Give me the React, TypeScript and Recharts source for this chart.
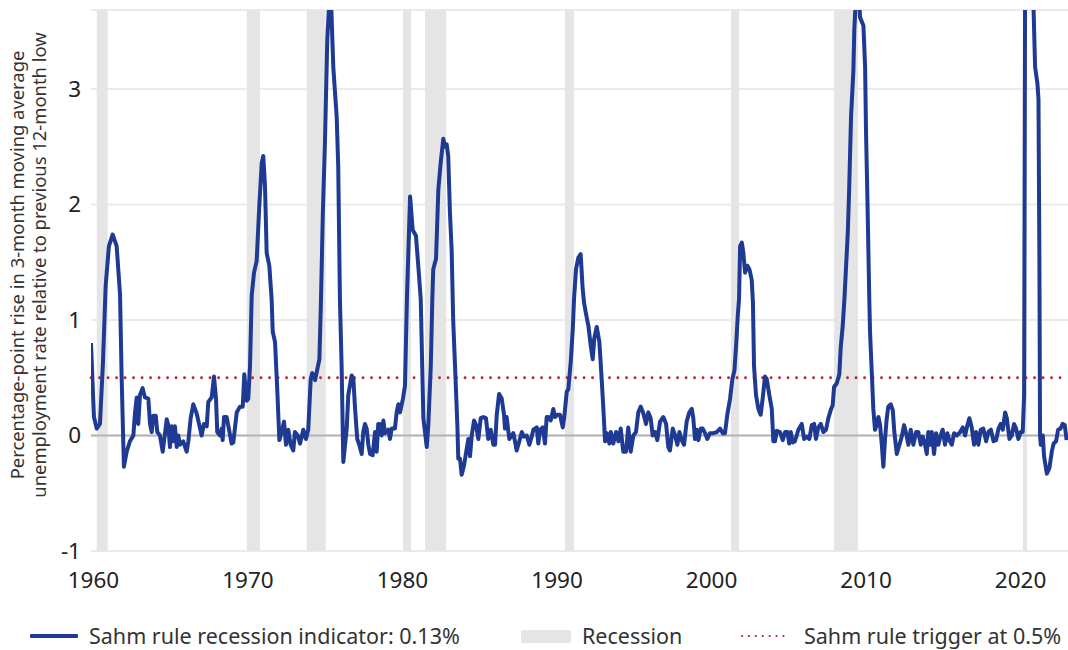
import React from 'react';
import { LineChart, Line, XAxis, YAxis, CartesianGrid, ReferenceArea, ReferenceLine } from 'recharts';

const dates = [
  1959.84, 1960.03, 1960.21, 1960.42, 1960.61, 1960.79, 1961.0, 1961.24, 1961.5, 1961.72, 1961.82, 1961.97,
  1962.15, 1962.36, 1962.58, 1962.69, 1962.8, 1962.9, 1963.01, 1963.18, 1963.33, 1963.55, 1963.66, 1963.77,
  1963.87, 1964.03, 1964.13, 1964.3, 1964.48, 1964.63, 1964.74, 1964.84, 1964.95, 1965.06, 1965.17, 1965.27,
  1965.39, 1965.49, 1965.6, 1965.81, 1966.03, 1966.14, 1966.29, 1966.46, 1966.68, 1966.85, 1967.0, 1967.15,
  1967.33, 1967.43, 1967.65, 1967.8, 1967.93, 1968.01, 1968.19, 1968.3, 1968.36, 1968.45, 1968.62, 1968.79,
  1968.94, 1969.05, 1969.27, 1969.48, 1969.66, 1969.76, 1969.92, 1970.02, 1970.13, 1970.24, 1970.39, 1970.56,
  1970.73, 1970.89, 1970.99, 1971.1, 1971.21, 1971.38, 1971.53, 1971.6, 1971.75, 1971.9, 1972.03, 1972.18,
  1972.33, 1972.46, 1972.61, 1972.76, 1972.93, 1973.04, 1973.22, 1973.37, 1973.58, 1973.75, 1973.9, 1974.06,
  1974.16, 1974.34, 1974.45, 1974.62, 1974.72, 1974.84, 1974.98, 1975.13, 1975.33, 1975.52, 1975.74, 1975.84,
  1975.95, 1976.06, 1976.17, 1976.28, 1976.39, 1976.49, 1976.71, 1976.82, 1976.93, 1977.07, 1977.2, 1977.36,
  1977.46, 1977.57, 1977.68, 1977.79, 1977.9, 1978.07, 1978.22, 1978.33, 1978.43, 1978.54, 1978.65, 1978.76,
  1978.87, 1979.08, 1979.19, 1979.3, 1979.51, 1979.62, 1979.73, 1979.84, 1980.03, 1980.16, 1980.29, 1980.49,
  1980.66, 1980.87, 1981.02, 1981.18, 1981.35, 1981.57, 1981.67, 1981.83, 1981.93, 1981.99, 1982.17, 1982.32,
  1982.47, 1982.64, 1982.75, 1982.86, 1982.96, 1983.07, 1983.18, 1983.28, 1983.4, 1983.55, 1983.61, 1983.72,
  1983.83, 1983.98, 1984.16, 1984.26, 1984.37, 1984.48, 1984.63, 1984.76, 1984.91, 1985.06, 1985.23, 1985.4,
  1985.55, 1985.71, 1985.88, 1985.99, 1986.1, 1986.25, 1986.42, 1986.57, 1986.63, 1986.74, 1986.91, 1987.07,
  1987.17, 1987.28, 1987.39, 1987.56, 1987.72, 1987.86, 1988.04, 1988.21, 1988.36, 1988.47, 1988.69, 1988.79,
  1988.9, 1989.07, 1989.22, 1989.33, 1989.44, 1989.59, 1989.76, 1989.87, 1990.02, 1990.19, 1990.37, 1990.47,
  1990.63, 1990.73, 1990.89, 1991.02, 1991.1, 1991.23, 1991.38, 1991.53, 1991.66, 1991.75, 1991.88, 1992.03,
  1992.18, 1992.31, 1992.41, 1992.57, 1992.74, 1992.89, 1993.0, 1993.11, 1993.22, 1993.39, 1993.48, 1993.64,
  1993.82, 1993.97, 1994.12, 1994.29, 1994.47, 1994.61, 1994.77, 1994.94, 1995.11, 1995.26, 1995.42, 1995.59,
  1995.76, 1995.91, 1996.06, 1996.19, 1996.34, 1996.49, 1996.67, 1996.88, 1997.06, 1997.2, 1997.31, 1997.49,
  1997.64, 1997.79, 1997.92, 1998.07, 1998.22, 1998.39, 1998.56, 1998.72, 1998.82, 1998.93, 1999.04, 1999.15,
  1999.3, 1999.43, 1999.58, 1999.73, 1999.9, 2000.12, 2000.34, 2000.55, 2000.73, 2000.87, 2001.02, 2001.2,
  2001.35, 2001.48, 2001.59, 2001.7, 2001.78, 2001.85, 2001.96, 2002.06, 2002.17, 2002.32, 2002.45, 2002.6,
  2002.68, 2002.75, 2002.88, 2003.03, 2003.18, 2003.31, 2003.46, 2003.57, 2003.74, 2003.9, 2004.0, 2004.11,
  2004.22, 2004.43, 2004.61, 2004.76, 2004.91, 2005.03, 2005.13, 2005.26, 2005.4, 2005.62, 2005.84, 2005.99,
  2006.16, 2006.33, 2006.49, 2006.64, 2006.76, 2006.91, 2007.07, 2007.24, 2007.41, 2007.56, 2007.74, 2007.84,
  2007.93, 2008.1, 2008.27, 2008.36, 2008.49, 2008.6, 2008.82, 2008.9, 2009.03, 2009.18, 2009.24, 2009.45,
  2009.61, 2009.83, 2009.94, 2010.0, 2010.09, 2010.21, 2010.26, 2010.37, 2010.47, 2010.58, 2010.69, 2010.8,
  2010.91, 2011.02, 2011.12, 2011.23, 2011.34, 2011.44, 2011.6, 2011.73, 2011.83, 2011.99, 2012.16, 2012.31,
  2012.46, 2012.59, 2012.74, 2012.89, 2013.06, 2013.24, 2013.38, 2013.54, 2013.67, 2013.82, 2013.93, 2014.03,
  2014.14, 2014.25, 2014.4, 2014.53, 2014.68, 2014.83, 2014.96, 2015.11, 2015.26, 2015.39, 2015.55, 2015.7,
  2015.87, 2016.09, 2016.26, 2016.41, 2016.56, 2016.69, 2016.84, 2016.99, 2017.12, 2017.27, 2017.42, 2017.59,
  2017.77, 2017.92, 2018.08, 2018.25, 2018.42, 2018.57, 2018.72, 2018.85, 2019.0, 2019.11, 2019.28, 2019.43,
  2019.58, 2019.71, 2019.86, 2020.01, 2020.14, 2020.23, 2020.33, 2020.45, 2020.6, 2020.72, 2020.83, 2020.94,
  2021.09, 2021.16, 2021.22, 2021.26, 2021.31, 2021.44, 2021.52, 2021.7, 2021.87, 2022.02, 2022.14, 2022.3,
  2022.43, 2022.59, 2022.72, 2022.86, 2022.98,
];

const sahmValues = [
  0.8, 0.16, 0.06, 0.1, 0.62, 1.3, 1.64, 1.74, 1.64, 1.22, 0.52, -0.27,
  -0.14, -0.05, 0.0, 0.2, 0.33, 0.1, 0.35, 0.41, 0.33, 0.32, 0.1, 0.03,
  0.17, 0.17, 0.03, 0.0, -0.14, 0.02, 0.14, 0.09, -0.1, 0.08, -0.05, 0.08,
  -0.1, 0.0, -0.08, -0.05, -0.14, -0.05, 0.15, 0.27, 0.19, 0.09, 0.0, 0.1,
  0.08, 0.29, 0.33, 0.51, 0.32, 0.03, 0.0, 0.06, -0.04, 0.16, 0.16, 0.04,
  -0.07, -0.06, 0.2, 0.25, 0.25, 0.53, 0.3, 0.32, 0.6, 1.21, 1.41, 1.51,
  1.98, 2.36, 2.42, 2.16, 1.58, 1.47, 1.18, 0.9, 0.81, 0.38, -0.04, 0.03,
  0.12, -0.08, 0.05, -0.08, -0.13, 0.03, 0.0, -0.07, 0.05, -0.03, 0.05, 0.49,
  0.54, 0.48, 0.55, 0.66, 1.15, 1.9, 2.53, 3.42, 3.95, 3.19, 2.76, 2.33,
  1.18, 0.6, -0.23, -0.08, 0.06, 0.35, 0.52, 0.49, 0.23, -0.03, -0.08, -0.16,
  0.03, 0.1, 0.06, -0.08, -0.16, -0.17, 0.03, -0.14, 0.1, 0.1, 0.0, 0.13,
  0.02, 0.05, -0.03, 0.06, 0.06, 0.2, 0.27, 0.2, 0.32, 0.43, 1.2, 2.07,
  1.78, 1.73, 1.47, 1.18, 0.15, -0.1, 0.09, 0.6, 1.18, 1.44, 1.53, 2.13,
  2.36, 2.57, 2.5, 2.52, 2.42, 1.93, 1.61, 1.0, 0.6, 0.09, -0.2, -0.2,
  -0.34, -0.26, -0.11, -0.03, -0.18, 0.0, 0.13, 0.09, -0.03, 0.15, 0.16, 0.15,
  -0.03, 0.05, -0.08, -0.08, 0.18, 0.36, 0.32, 0.18, 0.06, 0.16, -0.03, 0.0,
  0.02, -0.05, -0.13, -0.05, 0.03, -0.01, 0.0, -0.08, -0.01, 0.05, 0.07, -0.07,
  0.05, 0.07, -0.07, 0.16, 0.16, 0.13, 0.23, 0.16, 0.18, 0.18, 0.07, 0.16,
  0.38, 0.4, 0.64, 0.92, 1.18, 1.44, 1.54, 1.57, 1.27, 1.15, 1.05, 0.95,
  0.78, 0.66, 0.84, 0.94, 0.81, 0.49, 0.23, -0.05, 0.02, -0.07, 0.03, -0.07,
  0.03, -0.05, 0.06, -0.14, -0.14, 0.07, -0.14, 0.0, 0.03, 0.2, 0.25, 0.19,
  0.1, 0.2, 0.15, 0.0, 0.03, -0.04, 0.12, 0.16, 0.1, -0.1, -0.13, 0.06,
  0.0, -0.08, 0.03, -0.04, -0.08, 0.12, 0.2, 0.23, 0.15, -0.03, 0.05, -0.04,
  0.06, 0.06, 0.02, -0.03, 0.02, 0.02, 0.03, 0.06, 0.02, 0.02, 0.18, 0.32,
  0.49, 0.56, 0.78, 1.04, 1.18, 1.64, 1.67, 1.58, 1.41, 1.47, 1.44, 1.35,
  1.15, 0.6, 0.35, 0.23, 0.18, 0.32, 0.51, 0.49, 0.35, 0.23, -0.05, -0.05,
  0.04, 0.03, -0.04, 0.03, 0.03, -0.07, 0.03, -0.06, -0.05, 0.05, 0.1, -0.03,
  -0.01, -0.03, 0.09, 0.1, -0.03, 0.07, 0.1, 0.03, 0.05, 0.15, 0.23, 0.26,
  0.42, 0.45, 0.53, 0.76, 0.95, 1.18, 1.76, 2.1, 2.76, 3.16, 3.51, 4.1,
  3.62, 3.55, 3.19, 2.62, 2.04, 1.18, 0.89, 0.55, 0.23, 0.05, 0.09, 0.16,
  0.09, -0.08, -0.27, -0.03, 0.15, 0.25, 0.27, 0.22, 0.03, -0.16, -0.08, -0.01,
  0.09, 0.02, -0.08, 0.05, -0.08, 0.03, 0.03, -0.08, -0.01, -0.08, -0.16, 0.03,
  -0.08, 0.03, -0.16, 0.02, -0.08, 0.0, 0.05, -0.08, 0.02, -0.04, -0.08, 0.02,
  0.0, 0.03, 0.07, 0.0, 0.09, 0.15, 0.07, -0.08, 0.03, -0.08, 0.05, 0.06,
  -0.05, 0.03, 0.05, -0.05, -0.04, 0.06, 0.1, 0.05, 0.2, 0.15, -0.03, 0.0,
  0.1, 0.06, -0.03, 0.03, 0.03, 0.35, 6.0, 9.0, 9.5, 7.0, 3.75, 3.19,
  3.05, 2.91, 1.5, 0.0, -0.08, 0.0, -0.18, -0.33, -0.28, -0.14, -0.07, -0.05,
  0.05, 0.06, 0.1, 0.09, -0.04,
];

const recessionStarts = [1960.21, 1969.92, 1973.8, 1980.03, 1981.46, 1990.52, 2001.26, 2007.93, 2020.16];
const recessionEnds = [1960.92, 1970.78, 1975.03, 1980.55, 1982.82, 1991.1, 2001.78, 2009.48, 2020.42];

const xTicks = [1960, 1970, 1980, 1990, 2000, 2010, 2020];
const yTicks = [-1, 0, 1, 2, 3];
const triggerLevel = 0.5;

const yAxisTitleLines = [
  'Percentage-point rise in 3-month moving average',
  'unemployment rate relative to previous 12-month low',
];
const legendLabels = ['Sahm rule recession indicator: 0.13%', 'Recession', 'Sahm rule trigger at 0.5%'];

const FONT = "'Noto Sans', 'Open Sans', sans-serif";
const NAVY = '#1f3a93';
const RED = '#c0272d';
const BAND = '#e5e5e5';
const X_LABEL_BASELINE = 588;

const data = dates.map((d, i) => ({ date: d, sahm: sahmValues[i] }));

const YTitle = () => (
  <g>
    <text
      transform="translate(24,265) rotate(-90)"
      textAnchor="middle"
      fontSize={18.4}
      fill="#333"
      fontFamily={FONT}
    >
      {yAxisTitleLines[0]}
    </text>
    <text
      transform="translate(46,265) rotate(-90)"
      textAnchor="middle"
      fontSize={18.4}
      fill="#333"
      fontFamily={FONT}
    >
      {yAxisTitleLines[1]}
    </text>
  </g>
);

const XTick = (props: any) => {
  const { x, payload } = props;
  return (
    <text x={x} y={X_LABEL_BASELINE} textAnchor="middle" fill="#222" fontSize={22.5} fontFamily={FONT}>
      {payload.value}
    </text>
  );
};

export default function App() {
  return (
    <div
      style={{
        position: 'absolute',
        left: 0,
        top: 0,
        width: 1068,
        height: 650,
        background: '#fff',
        fontFamily: FONT,
        overflow: 'hidden',
      }}
    >
      <LineChart width={1068} height={600} data={data} margin={{ top: 10, right: 0, bottom: 9, left: 0 }}>
        <CartesianGrid horizontal vertical={false} stroke="#ebebeb" strokeWidth={2} />
        {recessionStarts.map((s, i) => (
          <ReferenceArea
            key={'r' + i}
            x1={s}
            x2={recessionEnds[i]}
            fill={BAND}
            fillOpacity={1}
            stroke="none"
            ifOverflow="hidden"
          />
        ))}
        <ReferenceLine y={0} stroke="#b3b3b3" strokeWidth={2} />
        <ReferenceLine
          y={triggerLevel}
          stroke={RED}
          strokeWidth={2.8}
          strokeDasharray="0.1 8.4"
          strokeLinecap="round"
        />
        <XAxis
          dataKey="date"
          type="number"
          domain={[1959.84, 2023.07]}
          ticks={xTicks}
          interval={0}
          allowDataOverflow
          axisLine={false}
          tickLine={false}
          height={40}
          tick={<XTick />}
        />
        <YAxis
          type="number"
          domain={[-1, 3.684]}
          ticks={yTicks}
          interval={0}
          allowDataOverflow
          axisLine={false}
          tickLine={false}
          tickSize={0}
          tickMargin={10}
          width={91}
          tick={{ fill: '#222', fontSize: 22.5, fontFamily: FONT }}
          label={<YTitle />}
        />
        <Line
          dataKey="sahm"
          type="linear"
          stroke={NAVY}
          strokeWidth={4}
          strokeLinejoin="round"
          dot={false}
          activeDot={false}
          isAnimationActive={false}
        />
      </LineChart>
      <div style={{ position: 'absolute', top: 624, left: 0, width: 1068, height: 24, fontSize: 21.5, color: '#333' }}>
        <div style={{ position: 'absolute', left: 30, top: 10, width: 48, height: 4, background: NAVY, borderRadius: 1 }} />
        <div style={{ position: 'absolute', left: 89, top: 0, lineHeight: '24px', whiteSpace: 'nowrap' }}>{legendLabels[0]}</div>
        <div style={{ position: 'absolute', left: 521, top: 6, width: 50, height: 13, background: BAND, borderRadius: 2 }} />
        <div style={{ position: 'absolute', left: 582, top: 0, lineHeight: '24px', whiteSpace: 'nowrap' }}>{legendLabels[1]}</div>
        <svg style={{ position: 'absolute', left: 740, top: 10 }} width={52} height={4}>
          <line x1={2} y1={2} x2={50} y2={2} stroke={RED} strokeWidth={2.2} strokeDasharray="0.1 6.8" strokeLinecap="round" />
        </svg>
        <div style={{ position: 'absolute', left: 804, top: 0, lineHeight: '24px', whiteSpace: 'nowrap' }}>{legendLabels[2]}</div>
      </div>
    </div>
  );
}
